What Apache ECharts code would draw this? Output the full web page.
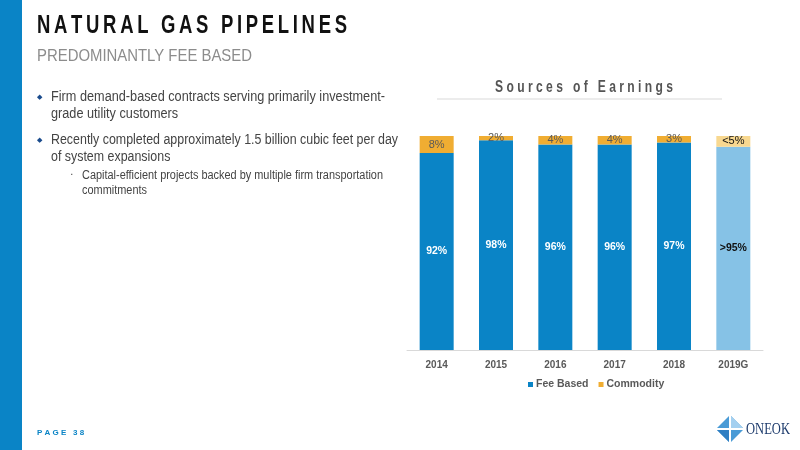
<!DOCTYPE html>
<html><head><meta charset="utf-8">
<script src="https://cdn.jsdelivr.net/npm/echarts@6/dist/echarts.min.js"></script>
<style>html,body{margin:0;padding:0;background:#fff}#c{width:800px;height:450px}</style>
</head><body><div id="c"></div>
<script>
const categories = ['2014','2015','2016','2017','2018','2019G'];
const feeBased = [92, 98, 96, 96, 97, 95];
const commodity = [8, 2, 4, 4, 3, 5];
const feeLabels = ['92%','98%','96%','96%','97%','>95%'];
const commodityLabels = ['8%','2%','4%','4%','3%','<5%'];

const F = '"Liberation Sans", Arial, sans-serif';
const SERIF = '"Liberation Serif", "DejaVu Serif", serif';
const chart = echarts.init(document.getElementById('c'));

const ctx = document.createElement('canvas').getContext('2d');
function widthOf(text, font) {
  ctx.font = font;
  return Math.max.apply(null, text.split('\n').map(l => ctx.measureText(l).width));
}
// text element horizontally fitted to a target width (slide text is condensed)
function fitted(text, font, x, y, targetW, fill, extra) {
  const s = targetW / widthOf(text, font);
  return Object.assign({type: 'text', x: x, y: y, scaleX: s, originX: 0, originY: 0,
    style: Object.assign({text: text, font: font, fill: fill, verticalAlign: 'middle'}, extra || {})});
}
const spaced = (t, sp) => t.split('').join(sp);

const feeData = feeBased.map((v, i) => i === 5 ? {value: v, itemStyle: {color: '#86c2e6'}, label: {color: '#111'}} : v);
const comData = commodity.map((v, i) => i === 5 ? {value: v, itemStyle: {color: '#f8d890'}, label: {color: '#111'}} : v);

const titleFont = 'bold 25px ' + F;
const subFont = '17px ' + F;
const bulletFont = '14px ' + F;
const subBulletFont = '12px ' + F;

chart.setOption({
  animation: false,
  textStyle: {fontFamily: F},
  grid: {left: 407, right: 37, top: 136, bottom: 100},
  xAxis: {
    type: 'category', data: categories,
    axisLine: {lineStyle: {color: '#d9d9d9'}}, axisTick: {show: false},
    axisLabel: {color: '#595959', fontSize: 10, fontWeight: 'bold', margin: 10}
  },
  yAxis: {type: 'value', min: 0, max: 100, show: false},
  legend: {
    top: 374, left: 523, itemWidth: 5, itemHeight: 5, itemGap: 10,
    textStyle: {color: '#595959', fontSize: 10.5, fontWeight: 'bold', padding: [0, 0, 0, -2]},
    icon: 'rect',
    data: ['Fee Based', 'Commodity']
  },
  series: [
    {name: 'Fee Based', type: 'bar', stack: 's', barWidth: 34, data: feeData,
     itemStyle: {color: '#0a84c6'},
     label: {show: true, position: 'inside', color: '#fff', fontSize: 10.5, fontWeight: 'bold',
       formatter: p => feeLabels[p.dataIndex]}},
    {name: 'Commodity', type: 'bar', stack: 's', barWidth: 34, data: comData,
     itemStyle: {color: '#f0ad32'},
     label: {show: true, position: 'inside', color: '#595959', fontSize: 11,
       formatter: p => commodityLabels[p.dataIndex]}}
  ],
  graphic: [
    {type: 'rect', shape: {x: 0, y: 0, width: 22, height: 450}, style: {fill: '#0a84c6'}},
    fitted(spaced('NATURAL GAS PIPELINES', '\u2009'), titleFont, 37, 26, 310, '#111'),
    fitted('PREDOMINANTLY FEE BASED', subFont, 37, 56, 215, '#8c8c8c'),
    {type: 'text', x: 37, y: 97, style: {text: '\u25C6', fill: '#1a4b8c', font: '7px ' + F, verticalAlign: 'middle'}},
    fitted('Firm demand-based contracts serving primarily investment-\ngrade utility customers', bulletFont, 51, 97, 334, '#444', {lineHeight: 17, verticalAlign: 'top', y: -8}),
    {type: 'text', x: 37, y: 140, style: {text: '\u25C6', fill: '#1a4b8c', font: '7px ' + F, verticalAlign: 'middle'}},
    fitted('Recently completed approximately 1.5 billion cubic feet per day\nof system expansions', bulletFont, 51, 140, 347, '#444', {lineHeight: 17, verticalAlign: 'top', y: -8}),
    {type: 'text', x: 71, y: 175, style: {text: '\u25AA', fill: '#666', font: '5px ' + F, verticalAlign: 'middle'}},
    fitted('Capital-efficient projects backed by multiple firm transportation\ncommitments', subBulletFont, 82, 175, 301, '#444', {lineHeight: 15, verticalAlign: 'top', y: -7}),
    fitted('S o u r c e s   o f   E a r n i n g s', 'bold 16px ' + F, 495, 88, 178, '#555'),
    {type: 'line', shape: {x1: 437, y1: 99, x2: 722, y2: 99}, style: {stroke: '#d9d9d9', lineWidth: 1}},
    {type: 'text', x: 37, y: 433, style: {text: 'P A G E   3 8', fill: '#0a84c6', font: 'bold 8px ' + F, verticalAlign: 'middle'}},
    // logo diamond
    {type: 'polygon', shape: {points: [[730,415],[744,429],[730,443],[716,429]]}, style: {fill: '#4a9bd6'}},
    {type: 'polygon', shape: {points: [[730,415],[744,429],[730,429]]}, style: {fill: '#a4d0f0'}},
    {type: 'polygon', shape: {points: [[716,429],[730,443],[730,429]]}, style: {fill: '#2f7fc3'}},
    {type: 'line', shape: {x1: 716, y1: 429, x2: 744, y2: 429}, style: {stroke: '#fff', lineWidth: 2}},
    {type: 'line', shape: {x1: 730, y1: 415, x2: 730, y2: 443}, style: {stroke: '#fff', lineWidth: 2}},
    fitted('ONEOK', '17px ' + SERIF, 746, 430, 44, '#1f3d6e')
  ]
});
</script></body></html>
